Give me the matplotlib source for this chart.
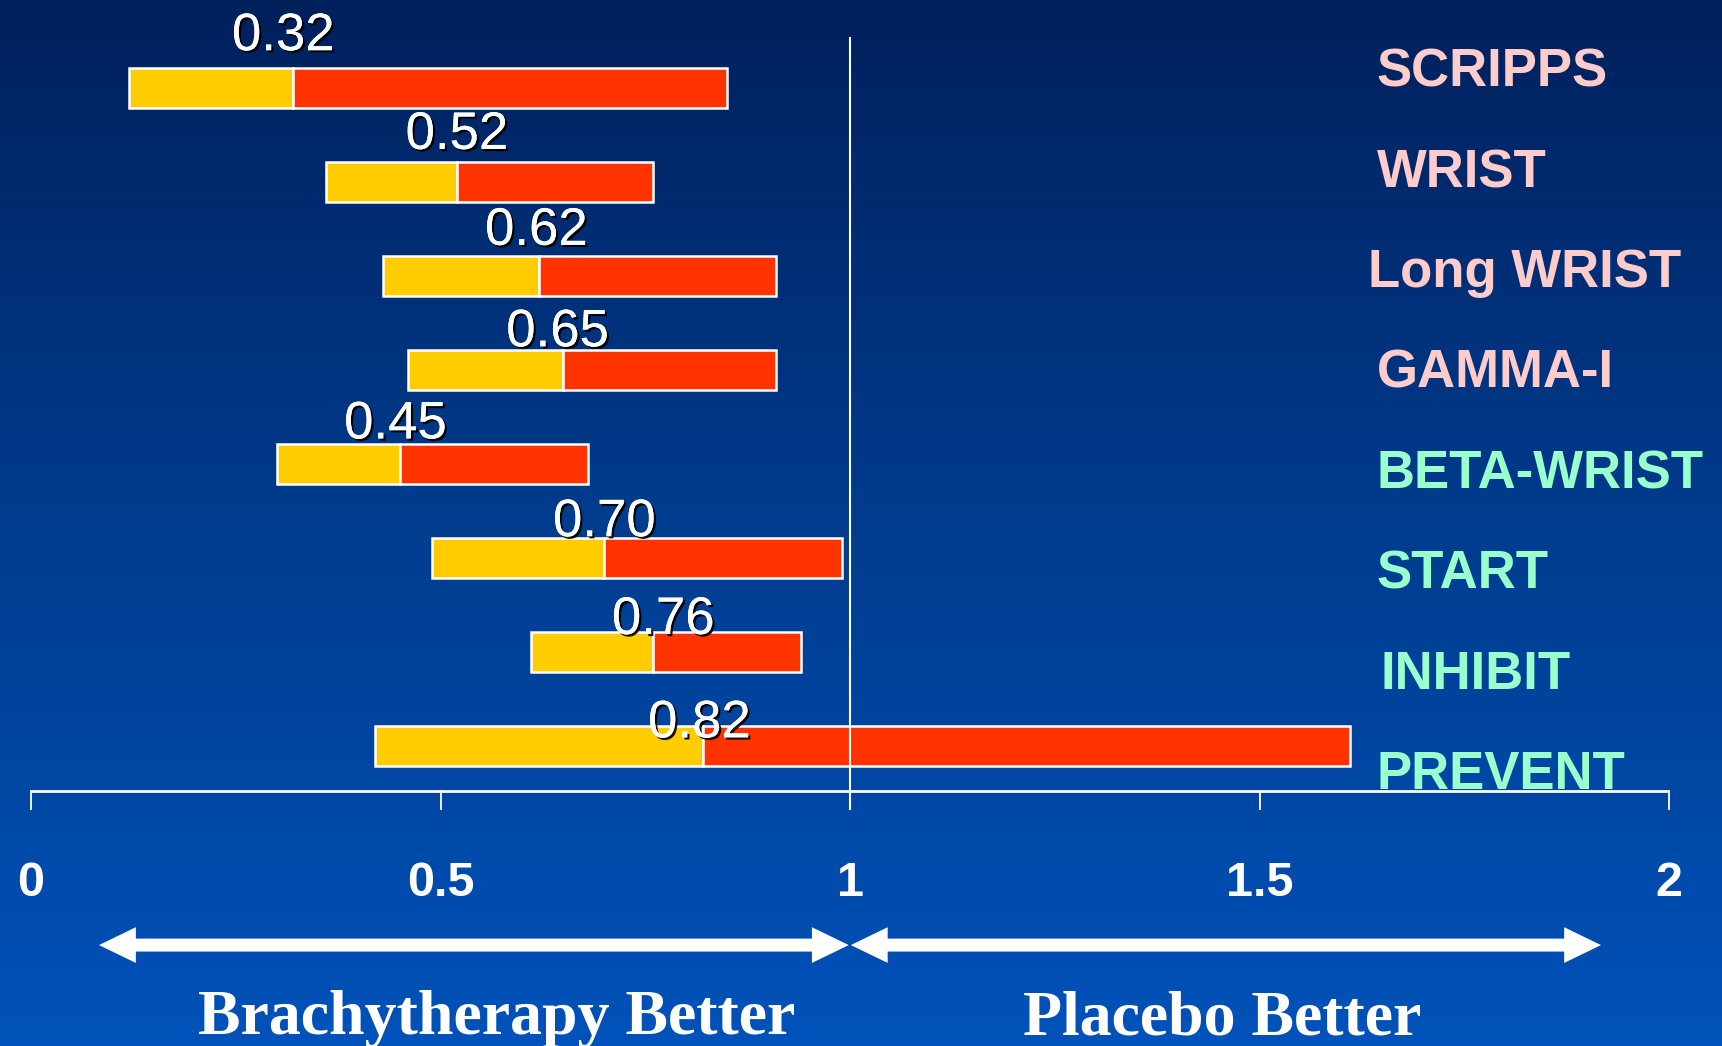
import numpy as np
import matplotlib
matplotlib.use("Agg")
import matplotlib.pyplot as plt
import matplotlib.patheffects as pe
from matplotlib.colors import LinearSegmentedColormap
from matplotlib.patches import Polygon

# ── data: relative risk (point estimate and 95% CI) per trial ────────────────
trials = ["SCRIPPS", "WRIST", "Long WRIST", "GAMMA-I",
          "BETA-WRIST", "START", "INHIBIT", "PREVENT"]
lower = [0.12, 0.36, 0.43, 0.46, 0.30, 0.49, 0.61, 0.42]
point = [0.32, 0.52, 0.62, 0.65, 0.45, 0.70, 0.76, 0.82]
upper = [0.85, 0.76, 0.91, 0.91, 0.68, 0.99, 0.94, 1.61]
point_labels = ["0.32", "0.52", "0.62", "0.65", "0.45", "0.70", "0.76", "0.82"]
x_ticks = [0, 0.5, 1, 1.5, 2]
x_tick_labels = ["0", "0.5", "1", "1.5", "2"]

# ── layout / style ────────────────────────────────────────────────────────────
PINK = "#FFCCCC"
MINT = "#99FFCC"
YELLOW = "#FFCC00"
RED = "#FF3300"
label_colors = [PINK] * 4 + [MINT] * 4
label_dy = [-0.40, -0.35, -0.33, -0.25, -0.27, -0.23, -0.19, -0.09]
label_dx = [-0.012, 0, -0.003, -0.007, -0.005, 0, 0.012, -0.004]
name_dx = [0, 0, -0.011, 0, 0, 0, 0.005, 0]

W, H = 1722, 1046
X0_PX, UNIT_PX = 31, 819      # pixel of x=0 and pixels per unit
Y0_PX, ROW_PX = 87.8, 94.0    # pixel of first row centre and row spacing

fig = plt.figure(figsize=(W / 100, H / 100), dpi=100)
ax = fig.add_axes([0, 0, 1, 1])
xlim = (-X0_PX / UNIT_PX, (W - X0_PX) / UNIT_PX)
ylim = ((H - Y0_PX) / ROW_PX, -Y0_PX / ROW_PX)

# background gradient: dark navy at top -> blue at bottom
cmap = LinearSegmentedColormap.from_list("bg", ["#00205C", "#003C8E", "#0052BA"])
grad = np.linspace(0, 1, 256).reshape(-1, 1)
ax.imshow(grad, cmap=cmap, aspect="auto", extent=(xlim[0], xlim[1], ylim[0], ylim[1]),
          origin="upper", zorder=0)
ax.set_xlim(*xlim)
ax.set_ylim(*ylim)
ax.axis("off")

rows = np.arange(len(trials))
lower_a = np.array(lower)
point_a = np.array(point)
upper_a = np.array(upper)
BAR_H = 0.42

ax.barh(rows, point_a - lower_a, left=lower_a, height=BAR_H, color=YELLOW,
        edgecolor="white", linewidth=1.8, zorder=3)
ax.barh(rows, upper_a - point_a, left=point_a, height=BAR_H, color=RED,
        edgecolor="white", linewidth=1.8, zorder=3)

# reference line at 1
AXIS_Y = 7.477
ax.plot([1, 1], [-0.525, 7.67], color="white", lw=1.5, zorder=4)

# bottom axis
ax.plot([0, 2], [AXIS_Y, AXIS_Y], color="white", lw=2, zorder=4,
        solid_capstyle="butt")
for t in x_ticks:
    ax.plot([t, t], [AXIS_Y, 7.67], color="white", lw=1.3, zorder=4)
for t, lab in zip(x_ticks, x_tick_labels):
    ax.text(t, 8.60, lab, color="white", fontsize=35, fontweight="bold",
            family="Liberation Sans", ha="center", va="baseline")

# point estimate labels
shadow = [pe.withSimplePatchShadow(offset=(1.6, -1.6), shadow_rgbFace="black", alpha=0.9),
          pe.Normal()]
for r, p, lab, dy, dx in zip(rows, point, point_labels, label_dy, label_dx):
    ax.text(p + dx, r + dy, lab, color="white", fontsize=38, family="Liberation Sans",
            ha="center", va="baseline", zorder=6, path_effects=shadow)

# trial names on the right
name_y = np.linspace(-0.23, 7.24, len(trials)) + 0.22
for y, name, c, dx in zip(name_y, trials, label_colors, name_dx):
    ax.text(1.643 + dx, y, name, color=c, fontsize=38, fontweight="bold",
            family="Liberation Sans", ha="left", va="baseline", zorder=6)


def double_arrow(ax, x0, x1, y, head_len=0.045, head_w=0.19, shaft_w=0.069):
    pts = [(x0, y), (x0 + head_len, y - head_w), (x0 + head_len, y - shaft_w),
           (x1 - head_len, y - shaft_w), (x1 - head_len, y - head_w), (x1, y),
           (x1 - head_len, y + head_w), (x1 - head_len, y + shaft_w),
           (x0 + head_len, y + shaft_w), (x0 + head_len, y + head_w)]
    ax.add_patch(Polygon(pts, closed=True, facecolor="white", edgecolor="none",
                         zorder=5))


ARROW_Y = 9.12
double_arrow(ax, 0.083, 0.9985, ARROW_Y)
double_arrow(ax, 1.001, 1.917, ARROW_Y)

ax.text(0.568, 10.07, "Brachytherapy Better", color="white", fontsize=46,
        fontweight="bold", family="Liberation Serif", ha="center", va="baseline")
ax.text(1.454, 10.07, "Placebo Better", color="white", fontsize=46,
        fontweight="bold", family="Liberation Serif", ha="center", va="baseline")

fig.savefig("out.png", dpi=100)
